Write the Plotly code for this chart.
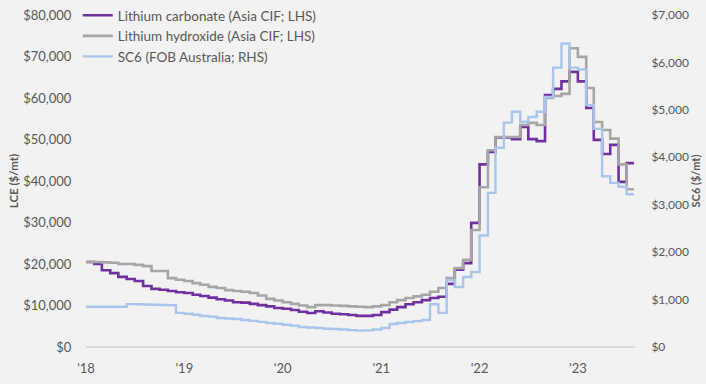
import pandas as pd
import plotly.graph_objects as go

# Month-start dates, Jan 2018 - Jul 2023
months = pd.date_range("2018-01-01", "2023-07-01", freq="MS")
series_end = "2023-07-28"

# Lithium carbonate, Asia CIF ($/mt, LHS)
carbonate = [
    20500, 20000, 18500, 17800, 16900, 16400, 15900, 14700, 14000, 13800, 13500, 13200,
    13000, 12600, 12300, 11900, 11500, 11200, 10800, 10700, 10400, 10100, 9800, 9400,
    9200, 8900, 8500, 8200, 8600, 8300, 8000, 7900, 7700, 7500, 7500, 7700,
    8400, 9000, 9600, 10300, 10800, 11300, 11800, 12100, 15200, 18600, 20200, 29900,
    44000, 47000, 50500, 50500, 50100, 53000, 50100, 49600, 60700, 62200, 64000, 66300,
    64000, 57600, 49900, 46500, 48700, 39800, 44300,
]

# Lithium hydroxide, Asia CIF ($/mt, LHS)
hydroxide = [
    20500, 20500, 20400, 20300, 20000, 20000, 19800, 19500, 18300, 18300, 16600, 16200,
    15900, 15400, 15000, 14500, 14200, 13700, 13500, 13300, 13000, 12400, 11600, 11200,
    10800, 10400, 10000, 9600, 10100, 10100, 10000, 9900, 9800, 9700, 9600, 9800,
    10100, 10800, 11300, 11800, 12200, 12600, 13300, 14200, 16600, 19000, 21000, 28200,
    38500, 47400, 50600, 50600, 50600, 53500, 54000, 53500, 60000, 60500, 61000, 72000,
    69900, 62400, 54200, 52300, 50200, 44000, 38000,
]

# Spodumene concentrate SC6, FOB Australia ($/mt, RHS)
sc6 = [
    850, 850, 850, 850, 850, 905, 900, 895, 890, 885, 880, 720,
    700, 680, 654, 640, 612, 600, 590, 570, 550, 530, 506, 490,
    470, 450, 422, 410, 400, 385, 380, 370, 355, 345, 350, 370,
    400, 485, 506, 527, 545, 570, 900, 720, 1413, 1266, 1477, 1582,
    2350, 3250, 4200, 4730, 4960, 4750, 4850, 4960, 5270, 5890, 6400, 5890,
    5850, 5100, 4600, 3600, 3460, 3380, 3220,
]

year_ticks = ["2018-01-01", "2019-01-01", "2020-01-01", "2021-01-01", "2022-01-01", "2023-01-01"]
year_labels = ["'18", "'19", "'20", "'21", "'22", "'23"]

left_ticks = list(range(0, 80001, 10000))
left_labels = ["$0", "$10,000", "$20,000", "$30,000", "$40,000", "$50,000", "$60,000", "$70,000", "$80,000"]
right_ticks = list(range(0, 7001, 1000))
right_labels = ["$0", "$1,000", "$2,000", "$3,000", "$4,000", "$5,000", "$6,000", "$7,000"]

TEXT = "#595959"
FONT = "Lato, 'Open Sans', sans-serif"
BG = "#f2f2f2"

x = list(months) + [pd.Timestamp(series_end)]


def extend(vals):
    return list(vals) + [vals[-1]]


fig = go.Figure()
fig.add_trace(go.Scatter(
    x=x, y=extend(carbonate), name="Lithium carbonate (Asia CIF; LHS)",
    mode="lines", line=dict(color="#7030a0", width=2.6, shape="hv"), legendrank=1,
))
fig.add_trace(go.Scatter(
    x=x, y=extend(hydroxide), name="Lithium hydroxide (Asia CIF; LHS)",
    mode="lines", line=dict(color="#a6a6a6", width=2.6, shape="hv"), legendrank=2,
))
fig.add_trace(go.Scatter(
    x=x, y=extend(sc6), name="SC6 (FOB Australia; RHS)", yaxis="y2",
    mode="lines", line=dict(color="#a9c5ec", width=2.4, shape="hv"), legendrank=3,
))

fig.update_layout(
    width=706, height=384,
    margin=dict(l=86, r=71, t=15, b=37, autoexpand=False),
    paper_bgcolor=BG, plot_bgcolor=BG,
    font=dict(family=FONT, size=13, color=TEXT),
    showlegend=True,
    legend=dict(
        x=-0.015, y=1.0, xanchor="left", yanchor="top", yref="container",
        bgcolor="rgba(0,0,0,0)", font=dict(size=13.5, color=TEXT),
        itemwidth=30, tracegroupgap=0,
    ),
    xaxis=dict(
        type="date", range=["2018-01-01", "2023-08-01"],
        tickvals=year_ticks, ticktext=year_labels,
        showgrid=False, zeroline=False, showline=False, automargin=False,
        ticks="outside", ticklen=9, tickcolor=BG,
        tickfont=dict(size=13, color=TEXT),
    ),
    yaxis=dict(
        range=[0, 80000], tickvals=left_ticks, ticktext=left_labels,
        showgrid=False, zeroline=True, zerolinecolor="#d9d9d9", zerolinewidth=1.5,
        showline=False, automargin=False, ticks="outside", ticklen=11, tickcolor=BG,
        tickfont=dict(size=13, color=TEXT),
        title=dict(text="<b>LCE ($/mt)</b>", font=dict(size=11.5, color=TEXT), standoff=2),
    ),
    yaxis2=dict(
        range=[0, 7000], tickvals=right_ticks, ticktext=right_labels,
        overlaying="y", side="right", automargin=False,
        showgrid=False, zeroline=False, showline=False,
        ticks="outside", ticklen=13, tickcolor=BG,
        tickfont=dict(size=12, color=TEXT),
        title=dict(text="<b>SC6 ($/mt)</b>", font=dict(size=11, color=TEXT), standoff=2),
    ),
)

fig.write_html("out.html")
